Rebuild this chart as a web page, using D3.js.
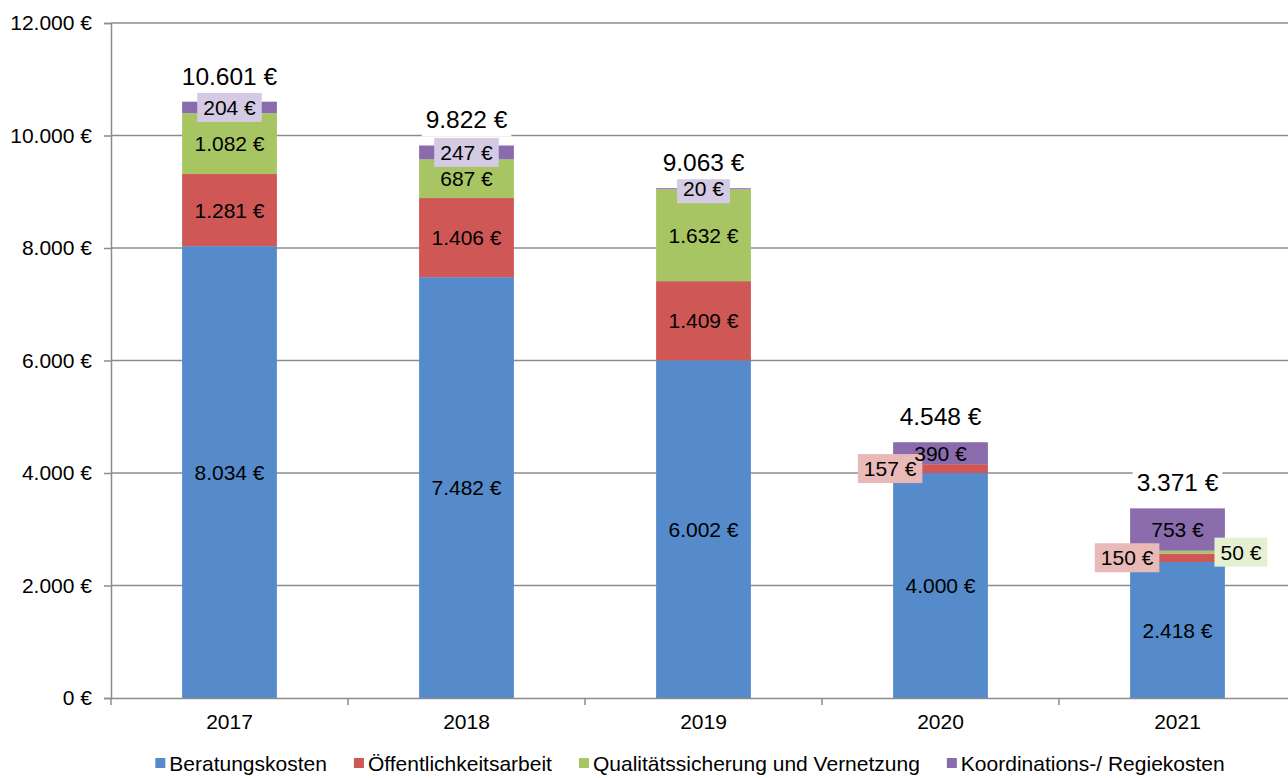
<!DOCTYPE html>
<html>
<head>
<meta charset="utf-8">
<script src="https://cdn.jsdelivr.net/npm/d3@7"></script>
<style>
  body { margin: 0; background: #fff; }
  svg { display: block; font-family: "Liberation Sans", Arial, sans-serif; }
</style>
</head>
<body>
<svg id="chart"></svg>
<script>
// Daten
const years = ["2017", "2018", "2019", "2020", "2021"];
const beratung = [8034, 7482, 6002, 4000, 2418];
const oeffentlichkeit = [1281, 1406, 1409, 157, 150];
const qualitaet = [1082, 687, 1632, 0, 50];
const koordination = [204, 247, 20, 390, 753];
const totals = [10601, 9822, 9063, 4548, 3371];
const yTicks = [0, 2000, 4000, 6000, 8000, 10000, 12000];
const seriesNames = ["Beratungskosten", "Öffentlichkeitsarbeit", "Qualitätssicherung und Vernetzung", "Koordinations-/ Regiekosten"];

const width = 1288, height = 778;
const marginTop = 23, marginBottom = 80, marginLeft = 111, plotRight = 1296;

const colors = ["#558bcb", "#cf5755", "#a7c663", "#8a6cad"];
const boxColors = ["#ffffff", "#e8b9b7", "#e5f0d1", "#d4cae3"];
const keys = ["b", "o", "q", "k"];

const data = years.map((y, i) => ({
  year: y, b: beratung[i], o: oeffentlichkeit[i], q: qualitaet[i], k: koordination[i], total: totals[i]
}));

const series = d3.stack().keys(keys)(data);

const fmt = v => d3.format(",.0f")(v).replace(/,/g, ".") + " €";

const x = d3.scaleBand(years, [marginLeft, plotRight]).paddingInner(0.6).paddingOuter(0.3);
const step = x.step();
const y = d3.scaleLinear([0, 12000], [height - marginBottom, marginTop]);

const svg = d3.select("#chart")
  .attr("width", width)
  .attr("height", height)
  .attr("viewBox", [0, 0, width, height]);

// Gitterlinien
svg.append("g")
  .selectAll("line")
  .data(yTicks.filter(d => d > 0))
  .join("line")
    .attr("x1", marginLeft).attr("x2", width)
    .attr("y1", d => y(d)).attr("y2", d => y(d))
    .attr("stroke", "#8c8c8c").attr("stroke-width", 1.5);

// y-Achse
const yAxis = svg.append("g")
  .attr("transform", `translate(${marginLeft},0)`)
  .call(d3.axisLeft(y).tickValues(yTicks).tickFormat(fmt).tickSize(7).tickPadding(12));
yAxis.select(".domain").attr("stroke", "#8c8c8c").attr("stroke-width", 1.5);
yAxis.selectAll(".tick line").attr("stroke", "#8c8c8c").attr("stroke-width", 1.5);
yAxis.selectAll(".tick text").attr("font-size", 21).attr("fill", "#000");

// Balken
svg.append("g")
  .selectAll("g")
  .data(series)
  .join("g")
    .attr("fill", (d, i) => colors[i])
  .selectAll("rect")
  .data(d => d)
  .join("rect")
    .attr("x", d => x(d.data.year))
    .attr("width", x.bandwidth())
    .attr("y", d => y(d[1]))
    .attr("height", d => y(d[0]) - y(d[1]));

// x-Achse
const xAxis = svg.append("g")
  .attr("transform", `translate(0,${height - marginBottom})`)
  .call(d3.axisBottom(x).tickSize(0).tickPadding(16));
xAxis.select(".domain").attr("stroke", "#8c8c8c").attr("stroke-width", 1.5);
xAxis.selectAll(".tick text").attr("font-size", 21).attr("fill", "#000");
// Trennstriche zwischen Kategorien
xAxis.append("g")
  .selectAll("line")
  .data(d3.range(years.length + 1))
  .join("line")
    .attr("x1", i => marginLeft + i * step).attr("x2", i => marginLeft + i * step)
    .attr("y1", 0).attr("y2", 7)
    .attr("stroke", "#8c8c8c").attr("stroke-width", 1.5);

// Segmentbeschriftungen
const labels = svg.append("g").attr("font-size", 21).attr("fill", "#000");
series.forEach((s, si) => {
  s.forEach(d => {
    const v = d[1] - d[0];
    if (v <= 0) return;
    const cy = y((d[0] + d[1]) / 2);
    const x0 = x(d.data.year), x1 = x0 + x.bandwidth();
    let cx = x0 + x.bandwidth() / 2;
    const small = v < 300;
    if (small && si === 1) cx = x0 - 3;
    if (small && si === 2) cx = x1 + 16;
    const g = labels.append("g");
    const t = g.append("text")
      .attr("x", cx).attr("y", cy)
      .attr("text-anchor", "middle")
      .attr("dy", "0.36em")
      .text(fmt(v));
    if (small) {
      const w = t.node().getComputedTextLength();
      g.insert("rect", "text")
        .attr("x", cx - w / 2 - 6).attr("y", cy - 14.5)
        .attr("width", w + 12).attr("height", 29)
        .attr("fill", boxColors[si]);
    }
  });
});

// Summen
const sums = svg.append("g").attr("font-size", 24.5).attr("fill", "#000");
data.forEach(d => {
  const cx = x(d.year) + x.bandwidth() / 2;
  const cy = y(d.total) - 26;
  const g = sums.append("g");
  const t = g.append("text")
    .attr("x", cx).attr("y", cy)
    .attr("text-anchor", "middle").attr("dy", "0.36em")
    .text(fmt(d.total));
  const w = t.node().getComputedTextLength();
  g.insert("rect", "text")
    .attr("x", cx - w / 2 - 4).attr("y", cy - 17)
    .attr("width", w + 8).attr("height", 34)
    .attr("fill", "#fff");
});

// Legende
const legend = svg.append("g").attr("font-size", 21);
let lx = 0;
seriesNames.forEach((name, i) => {
  const g = legend.append("g");
  g.append("rect").attr("x", 0).attr("y", -5).attr("width", 10).attr("height", 10).attr("fill", colors[i]);
  const t = g.append("text").attr("x", 14).attr("dy", "0.36em").attr("fill", "#000").text(name);
  const w = 14 + t.node().getComputedTextLength();
  g.attr("transform", `translate(${lx},0)`);
  lx += w + 27;
});
const legendWidth = lx - 27;
legend.attr("transform", `translate(${690 - legendWidth / 2},763)`);
</script>
</body>
</html>
